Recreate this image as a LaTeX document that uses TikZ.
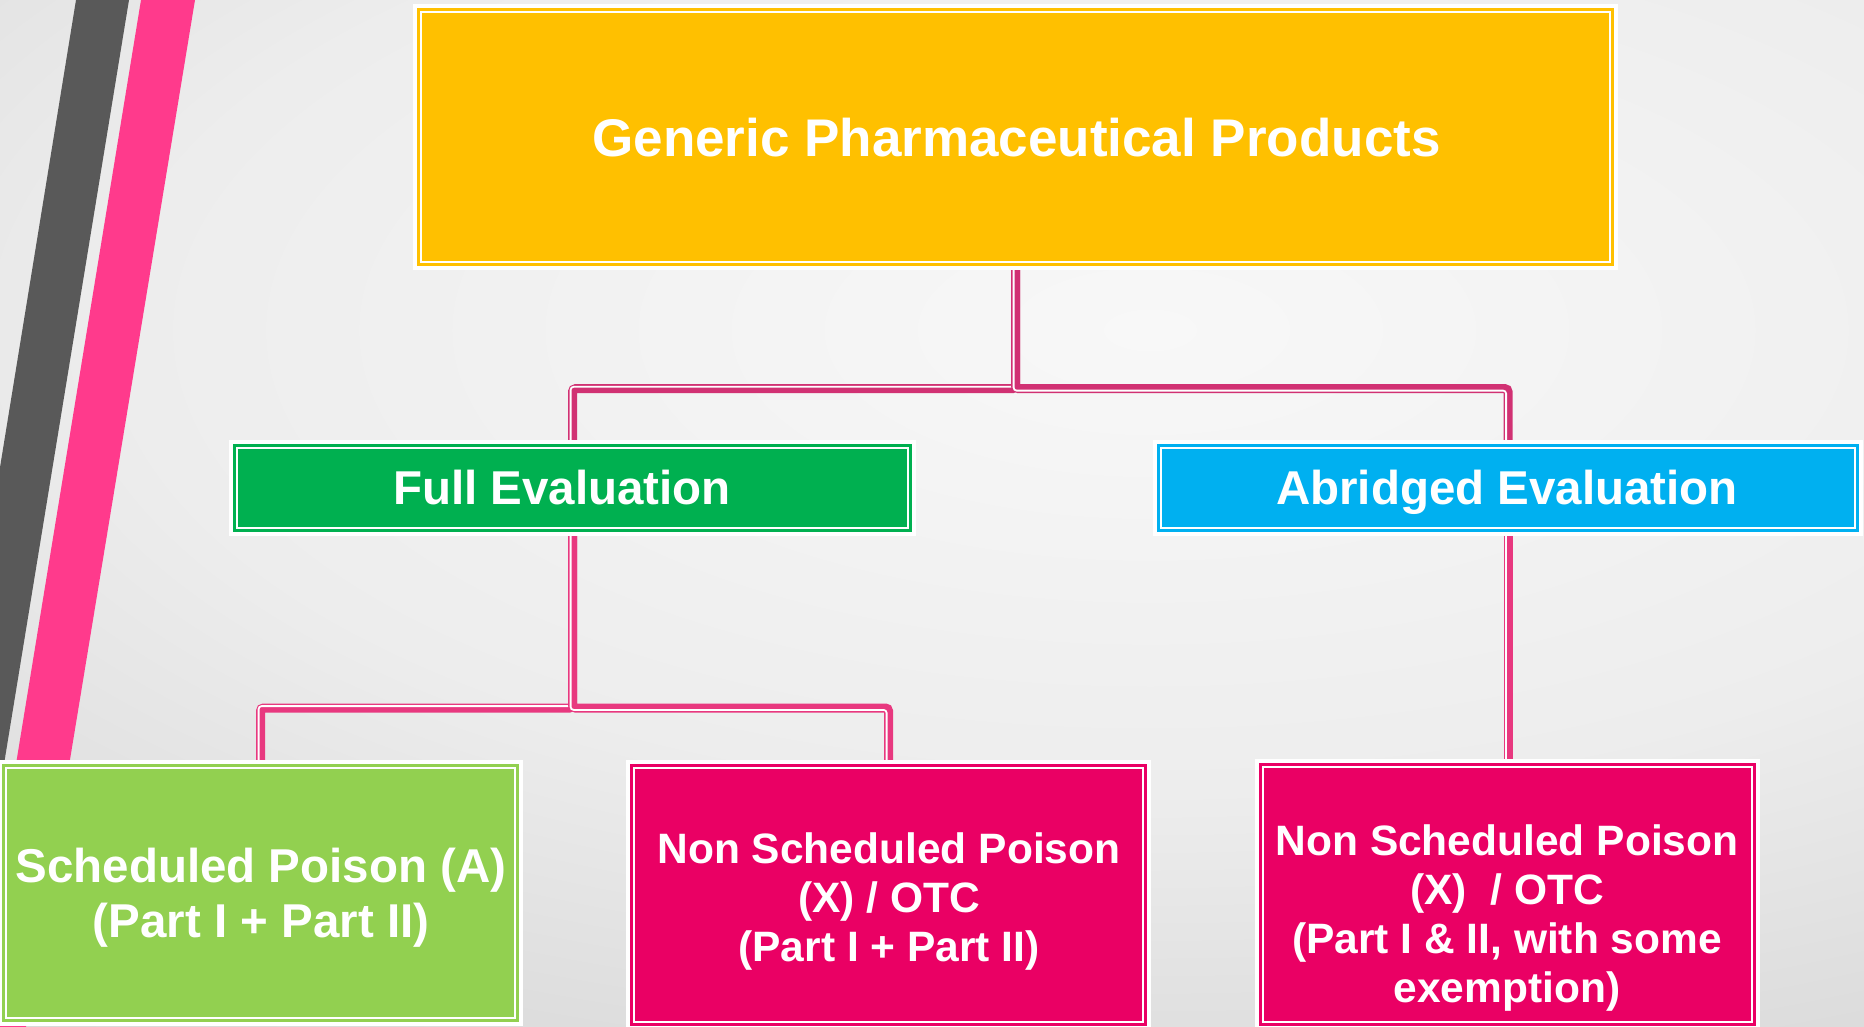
\documentclass[tikz,border=0pt]{standalone}
\usepackage{fontspec}
\setmainfont{Liberation Sans}
\usetikzlibrary{calc}

\definecolor{bgA}{HTML}{F8F8F8}
\definecolor{bgB}{HTML}{EDEDED}
\definecolor{bgC}{HTML}{DBDBDB}
\definecolor{bgD}{HTML}{D5D5D5}
\definecolor{bandgrey}{HTML}{595959}
\definecolor{bandpink}{HTML}{FF3A8C}
\definecolor{gold}{HTML}{FFC000}
\definecolor{fullgreen}{HTML}{00B050}
\definecolor{skyblue}{HTML}{00B0F0}
\definecolor{limegreen}{HTML}{92D050}
\definecolor{magenta}{HTML}{EA0064}
\definecolor{linkdark}{HTML}{D13173}
\definecolor{linklight}{HTML}{E8387F}

\pgfdeclareradialshading{backdrop}{\pgfpoint{0bp}{0bp}}{%
  color(0bp)=(bgA); color(16bp)=(bgB); color(27bp)=(bgC); color(36bp)=(bgD); color(50bp)=(bgD)}

\pgfdeclarelayer{back}
\pgfsetlayers{back,main}

\tikzset{
  panel/.style={rectangle, inner sep=0pt, outer sep=0pt,
    fill=#1, draw=#1, line width=2.6pt, double=white, double distance=2.4pt,
    preaction={draw=white, line width=16.4pt}},
  lbl/.style={text=white, inner sep=0pt, outer sep=0pt, align=center},
  bigtxt/.style={lbl, font=\bfseries\fontsize{53}{61}\selectfont},
  midtxt/.style={lbl, font=\bfseries\fontsize{47.5}{55}\selectfont},
  smalltxt/.style={lbl, font=\bfseries\fontsize{42.5}{49}\selectfont},
  link/.style={draw=#1, line width=9pt, rounded corners=3pt},
  stripe/.style={draw=white, line width=1.8pt, rounded corners=3pt},
}

\begin{document}
\begin{tikzpicture}[x=1pt, y=-1pt]
\useasboundingbox (0,0) rectangle (1864,1027);

% backdrop and the two slanted bands
\begin{pgfonlayer}{back}
  \begin{scope}
    \clip (0,0) rectangle (1864,1027);
    \shade[shading=backdrop] (-450,-390) rectangle (2750,1050);
    \fill[bandgrey] (76,0) -- (129,0) -- (-39,1027) -- (-91,1027) -- cycle;
    \fill[bandpink] (141,0) -- (195,0) -- (26,1027) -- (-27,1027) -- cycle;
  \end{scope}
\end{pgfonlayer}

% boxes
\node[panel=gold, minimum width=1189.4pt, minimum height=250.4pt] (top) at (1015.5,137) {};
\node[panel=fullgreen, minimum width=671.4pt, minimum height=80.4pt] (full) at (572.5,488) {};
\node[panel=skyblue, minimum width=694.4pt, minimum height=80.4pt] (abr) at (1508,488) {};
\node[panel=limegreen, minimum width=509.4pt, minimum height=250.4pt] (sched) at (260.5,893) {};
\node[panel=magenta, minimum width=509.4pt, minimum height=254.4pt] (nonA) at (888.5,895) {};
\node[panel=magenta, minimum width=489.4pt, minimum height=255.4pt] (nonB) at (1507.5,894.5) {};

% box texts
\node[bigtxt, anchor=base] (topT) at (1016.5,157) {Generic Pharmaceutical Products};
\node[midtxt, anchor=base] (fullT) at (562,504) {Full Evaluation};
\node[midtxt, anchor=base] (abrT) at (1507,504) {Abridged Evaluation};
\node[midtxt] (schedT) at (261,898) {Scheduled Poison (A)\\(Part I + Part II)};
\node[smalltxt] (nonAT) at (889,902) {Non Scheduled Poison\\(X) / OTC\\(Part I + Part II)};
\node[smalltxt] (nonBT) at (1507,918.5) {Non Scheduled Poison\\(X)~~/ OTC\\(Part I \& II, with some\\exemption)};

% connectors (drawn beneath the boxes)
\coordinate (bus1) at (0,388.7);
\coordinate (bus2) at (0,708);
\begin{pgfonlayer}{back}
  \draw[link=linkdark] (top.south) -- (top.south |- bus1) -| (full.north);
  \draw[stripe, transform canvas={xshift=-1.9pt, yshift=1.9pt}]
    (top.south) -- (top.south |- bus1) -| (full.north);
  \draw[link=linkdark] (top.south) -- (top.south |- bus1) -| (abr.north);
  \draw[stripe, transform canvas={xshift=-1.9pt, yshift=-1.9pt}]
    (top.south) -- (top.south |- bus1) -| (abr.north);

  \draw[link=linklight] (full.south) -- (full.south |- bus2) -| (sched.north);
  \draw[stripe, transform canvas={xshift=-1.9pt, yshift=1.9pt}]
    (full.south) -- (full.south |- bus2) -| (sched.north);
  \draw[link=linklight] (full.south) -- (full.south |- bus2) -| (nonA.north);
  \draw[stripe, transform canvas={xshift=-1.9pt, yshift=-1.9pt}]
    (full.south) -- (full.south |- bus2) -| (nonA.north);

  \draw[link=linklight] (abr.south) -- (abr.south |- nonB.north);
  \draw[stripe, transform canvas={xshift=-1.9pt}]
    (abr.south) -- (abr.south |- nonB.north);
\end{pgfonlayer}
\end{tikzpicture}
\end{document}
